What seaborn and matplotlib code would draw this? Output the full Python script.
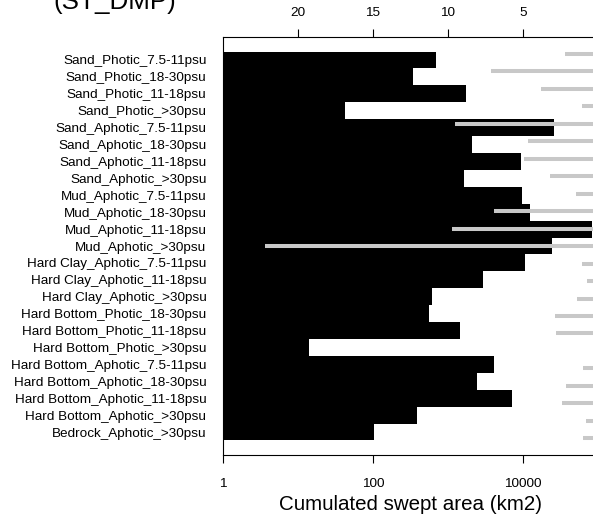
import numpy as np
import pandas as pd
import matplotlib
matplotlib.use("Agg")
import matplotlib.pyplot as plt
import matplotlib.ticker as mticker
import seaborn as sns

# Habitat categories (top to bottom)
habitats = [
    "Sand_Photic_7.5-11psu", "Sand_Photic_18-30psu", "Sand_Photic_11-18psu",
    "Sand_Photic_>30psu", "Sand_Aphotic_7.5-11psu", "Sand_Aphotic_18-30psu",
    "Sand_Aphotic_11-18psu", "Sand_Aphotic_>30psu", "Mud_Aphotic_7.5-11psu",
    "Mud_Aphotic_18-30psu", "Mud_Aphotic_11-18psu", "Mud_Aphotic_>30psu",
    "Hard Clay_Aphotic_7.5-11psu", "Hard Clay_Aphotic_11-18psu",
    "Hard Clay_Aphotic_>30psu", "Hard Bottom_Photic_18-30psu",
    "Hard Bottom_Photic_11-18psu", "Hard Bottom_Photic_>30psu",
    "Hard Bottom_Aphotic_7.5-11psu", "Hard Bottom_Aphotic_18-30psu",
    "Hard Bottom_Aphotic_11-18psu", "Hard Bottom_Aphotic_>30psu",
    "Bedrock_Aphotic_>30psu",
]

# Cumulated swept area (km2), black bars, log scale
swept_area = [692, 338, 1738, 42, 26200, 2090, 9500, 1634, 9700, 12400, 82000,
              24600, 10700, 2900, 618, 558, 1445, 14, 4150, 2436, 7210, 390, 102]

# Gray segments, read on the reversed top axis (from value down to 0)
top_value = [2.2, 7.15, 3.78, 1.05, 9.53, 4.69, 4.96, 3.2, 1.49, 6.93, 9.76,
             22.2, 1.09, 0.73, 1.42, 2.89, 2.8, 0.0, 0.98, 2.11, 2.4, 0.82, 1.02]

top_ticks = [20, 15, 10, 5]
bottom_ticks = [1, 100, 10000]
bottom_ticklabels = ["1", "100", "10000"]

df = pd.DataFrame({"habitat": habitats, "area": swept_area})

sns.set_style("white")
plt.rcParams["font.family"] = ["Liberation Sans", "DejaVu Sans"]
plt.rcParams["text.color"] = "black"
plt.rcParams["axes.labelcolor"] = "black"
plt.rcParams["xtick.color"] = "black"
plt.rcParams["ytick.color"] = "black"

W, H = 593, 526
fig = plt.figure(figsize=(W / 100, H / 100), dpi=100)
rect = [223 / W, (H - 455) / H, 375 / W, 418 / H]

# Bars
ax = fig.add_axes(rect)
sns.barplot(data=df, x="area", y="habitat", orient="h", color="black",
            saturation=1, width=1.0, ax=ax, order=habitats,
            edgecolor="black", linewidth=0)
ax.set_xscale("log")
ax.set_xlim(1, 1e5)
ax.set_ylim(22.5 + 0.86, -0.5 - 0.86)
ax.xaxis.set_major_locator(mticker.FixedLocator(bottom_ticks))
ax.xaxis.set_major_formatter(mticker.FixedFormatter(bottom_ticklabels))
ax.xaxis.set_minor_locator(mticker.NullLocator())
ax.tick_params(axis="x", bottom=True, length=5.8, width=0.8, pad=10.5,
               labelsize=9.7, color="black", labelcolor="black")
ax.tick_params(axis="y", left=False, length=0, pad=12, labelsize=9.7,
               labelcolor="black")
ax.set_xlabel("Cumulated swept area (km2)", fontsize=14.8, labelpad=4,
              color="black")
ax.set_ylabel("")
for side in ["left", "top", "bottom"]:
    ax.spines[side].set_visible(True)
    ax.spines[side].set_color("black")
    ax.spines[side].set_linewidth(0.8)
ax.spines["right"].set_visible(False)

# Gray segments on their own overlaid axes
ax2 = fig.add_axes(rect)
ax2.patch.set_alpha(0)
rows = np.arange(len(habitats))
ax2.hlines(rows, top_value, 0, color="#c8c8c8", linewidth=2.9)
ax2.set_xlim(25, 0)
ax2.set_ylim(22 + 0.956, -0.973)
ax2.set_yticks([])
ax2.xaxis.tick_top()
ax2.set_xticks(top_ticks)
ax2.set_xticklabels([str(t) for t in top_ticks])
ax2.tick_params(axis="x", top=True, bottom=False, length=5.8, width=0.8,
                pad=7.5, labelsize=9.7, color="black", labelcolor="black")
for side in ["left", "right", "top", "bottom"]:
    ax2.spines[side].set_visible(False)

fig.text(53 / W, 1 - 9.5 / H, "(ST_DMP)", fontsize=18.7, ha="left",
         va="baseline", color="black")

fig.savefig("out.png", dpi=100)
